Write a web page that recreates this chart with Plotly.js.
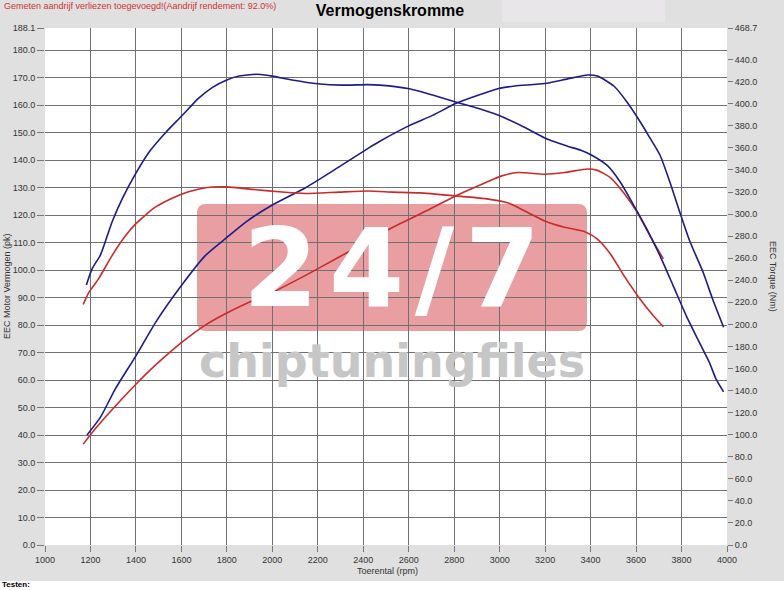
<!DOCTYPE html>
<html>
<head>
<meta charset="utf-8">
<script src="https://cdn.plot.ly/plotly-3.0.1.min.js"></script>
<style>html,body{margin:0;padding:0;background:#fff}#chart{width:784px;height:590px}</style>
</head>
<body>
<div id="chart"></div>
<script>
// ---- data ----
const rpmTorqueTuned = [1182,1207,1244,1295,1340,1400,1458,1530,1600,1675,1737,1800,1854,1912,1949,2000,2087,2200,2305,2420,2473,2603,2705,2806,2908,2995,3111,3198,3299,3357,3401,3473,3531,3589,3647,3705,3763,3821,3879,3923,3952,3985];
const torqueTuned = [235.7,250.4,262.9,292.8,314.0,337.1,356.3,373.8,388.7,404.9,414.9,421.6,425.1,426.6,426.6,425.1,421.6,418.1,416.9,417.4,416.9,413.6,407.9,401.7,395.7,389.5,378.5,369.0,361.6,357.8,353.8,344.1,328.9,308.2,286.6,262.4,235.2,207.8,183.4,165.2,150.3,138.8];

const rpmTorqueStock = [1168,1193,1236,1295,1354,1400,1488,1600,1705,1800,1912,2029,2146,2292,2423,2530,2647,2806,2937,3038,3111,3198,3285,3372,3430,3488,3546,3618,3676,3720];
const torqueStock = [218.0,229.0,241.5,262.4,280.3,291.3,306.7,318.0,323.9,324.7,322.4,320.2,318.7,319.9,320.9,319.9,319.2,316.5,314.0,310.0,302.8,293.8,288.1,284.1,277.3,263.6,244.4,222.8,207.8,197.8];

const rpmPowerTuned = [1185,1244,1310,1400,1488,1600,1705,1800,1883,2000,2146,2292,2423,2473,2600,2705,2806,2908,2995,3067,3198,3299,3386,3430,3502,3560,3618,3661,3705,3749,3792,3836,3894,3937,3985];
const powerTuned = [40.0,46.5,56.9,68.8,81.2,94.4,105.3,111.9,117.5,123.7,130.0,137.5,144.4,146.9,152.5,156.3,160.6,163.7,166.1,167.0,167.9,169.6,171.0,170.6,167.0,161.2,154.0,148.1,141.9,132.0,121.2,110.6,99.4,89.4,79.2];

const rpmPowerStock = [1168,1222,1310,1400,1488,1600,1705,1800,1927,2000,2146,2292,2423,2530,2676,2806,2937,3009,3082,3198,3285,3386,3430,3488,3546,3604,3661,3720];
const powerStock = [36.7,42.4,50.6,58.5,65.6,73.6,80.0,84.4,89.4,91.9,98.1,104.7,110.6,115.6,121.5,127.0,131.8,134.3,135.5,134.9,135.5,136.8,136.3,133.6,128.1,121.2,112.5,104.1];

const xTicks = [1000,1200,1400,1600,1800,2000,2200,2400,2600,2800,3000,3200,3400,3600,3800,4000];
const leftTicks = [0,10,20,30,40,50,60,70,80,90,100,110,120,130,140,150,160,170,180,188.1];
const rightTicks = [0,20,40,60,80,100,120,140,160,180,200,220,240,260,280,300,320,340,360,380,400,420,440,468.7];

// ---- helpers (pixel -> paper) ----
const L = 45, R = 727, T = 28, B = 545;
const PX = p => (p - L) / (R - L);
const PY = p => (B - p) / (B - T);

const BLUE = '#1c1c8c', RED = '#cc2a2a';
const lineStyle = c => ({color: c, width: 1.6, shape: 'spline', smoothing: 0.6});

const traces = [
  {x: rpmTorqueStock, y: torqueStock, yaxis: 'y2', mode: 'lines', line: lineStyle(RED), name: 'Koppel origineel'},
  {x: rpmPowerStock, y: powerStock, yaxis: 'y', mode: 'lines', line: lineStyle(RED), name: 'Vermogen origineel'},
  {x: rpmTorqueTuned, y: torqueTuned, yaxis: 'y2', mode: 'lines', line: lineStyle(BLUE), name: 'Koppel getuned'},
  {x: rpmPowerTuned, y: powerTuned, yaxis: 'y', mode: 'lines', line: lineStyle(BLUE), name: 'Vermogen getuned'}
];

const tickFont = {family: 'Liberation Sans, Arial, sans-serif', size: 9, color: '#333'};

function roundRect(x0, y0, x1, y1, r) {
  const rx = r / (R - L), ry = r / (B - T);
  const a = PX(x0), b = PX(x1), top = PY(y0), bot = PY(y1);
  return `M ${a+rx},${top} L ${b-rx},${top} Q ${b},${top} ${b},${top-ry} L ${b},${bot+ry} Q ${b},${bot} ${b-rx},${bot} L ${a+rx},${bot} Q ${a},${bot} ${a},${bot+ry} L ${a},${top-ry} Q ${a},${top} ${a+rx},${top} Z`;
}

const layout = {
  width: 784, height: 590,
  paper_bgcolor: '#e0e0e0', plot_bgcolor: '#ffffff',
  margin: {l: L, r: 784 - R, t: T, b: 590 - B, pad: 0},
  showlegend: false,
  font: {family: 'Liberation Sans, Arial, sans-serif', size: 9, color: '#333'},
  title: {text: '<b>Vermogenskromme</b>', x: 390/784, xref: 'container', xanchor: 'center', y: 1 - 10/590, yref: 'container', yanchor: 'middle',
          font: {family: 'Liberation Sans, Arial, sans-serif', size: 16, color: '#000'}},
  xaxis: {range: [1000, 4000], tickmode: 'array', tickvals: xTicks, ticktext: xTicks.map(String),
          showgrid: true, gridcolor: '#707070', gridwidth: 1, zeroline: false, showline: false,
          ticks: 'outside', ticklen: 6, tickcolor: '#777', tickfont: tickFont, fixedrange: true},
  yaxis: {range: [0, 188.1], tickmode: 'array', tickvals: leftTicks, ticktext: leftTicks.map(v => v.toFixed(1)),
          showgrid: true, gridcolor: '#707070', gridwidth: 1, zeroline: false, showline: false,
          ticks: 'outside', ticklen: 7, tickcolor: '#777', tickfont: tickFont, fixedrange: true},
  yaxis2: {range: [0, 468.7], overlaying: 'y', side: 'right', tickmode: 'array', tickvals: rightTicks, ticktext: rightTicks.map(v => v.toFixed(1)),
          showgrid: false, zeroline: false, showline: false,
          ticks: 'outside', ticklen: 5, tickcolor: '#777', tickfont: tickFont, fixedrange: true},
  shapes: [
    {type: 'rect', xref: 'paper', yref: 'paper', x0: PX(502), x1: PX(665), y0: PY(22), y1: PY(0), fillcolor: '#e8e6e8', line: {width: 0}, layer: 'below'},
    {type: 'rect', xref: 'paper', yref: 'paper', x0: PX(0), x1: PX(784), y0: PY(590), y1: PY(581), fillcolor: '#ffffff', line: {width: 0}, layer: 'below'},
    {type: 'path', xref: 'paper', yref: 'paper', path: roundRect(197, 204, 587, 331, 9), fillcolor: '#e99fa2', line: {width: 0}, layer: 'below'}
  ],
  annotations: [
    {xref: 'paper', yref: 'paper', x: PX(3), y: PY(6), xanchor: 'left', yanchor: 'middle', showarrow: false, borderpad: 0,
     text: 'Gemeten aandrijf verliezen toegevoegd!(Aandrijf rendement: 92.0%)', font: {family: 'Liberation Sans, Arial, sans-serif', size: 9, color: '#cc3333'}},
    {xref: 'paper', yref: 'paper', x: PX(391), y: PY(268), xanchor: 'center', yanchor: 'middle', showarrow: false, borderpad: 0,
     text: '<b>2\u200a4\u200a/\u200a7</b>', font: {family: 'DejaVu Sans, sans-serif', size: 108, color: '#ffffff'}},
    {xref: 'paper', yref: 'paper', x: PX(392), y: PY(361), xanchor: 'center', yanchor: 'middle', showarrow: false, borderpad: 0,
     text: '<b>chiptuningfiles</b>', font: {family: 'DejaVu Sans, sans-serif', size: 46, color: '#c6c6c6'}},
    {xref: 'paper', yref: 'paper', x: PX(7), y: PY(286), xanchor: 'center', yanchor: 'middle', textangle: -90, showarrow: false, borderpad: 0,
     text: 'EEC Motor Vermogen (pk)', font: {family: 'Liberation Sans, Arial, sans-serif', size: 9, color: '#333'}},
    {xref: 'paper', yref: 'paper', x: PX(773), y: PY(276), xanchor: 'center', yanchor: 'middle', textangle: 90, showarrow: false, borderpad: 0,
     text: 'EEC Torque (Nm)', font: {family: 'Liberation Sans, Arial, sans-serif', size: 9, color: '#333'}},
    {xref: 'paper', yref: 'paper', x: PX(387), y: PY(571), xanchor: 'center', yanchor: 'middle', showarrow: false, borderpad: 0,
     text: 'Toerental (rpm)', font: {family: 'Liberation Sans, Arial, sans-serif', size: 9, color: '#333'}},
    {xref: 'paper', yref: 'paper', x: PX(1), y: PY(590), xanchor: 'left', yanchor: 'bottom', showarrow: false, borderpad: 0,
     text: '<b>Testen:</b>', font: {family: 'Liberation Sans, Arial, sans-serif', size: 8, color: '#000'}}
  ]
};

Plotly.newPlot('chart', traces, layout, {displayModeBar: false, staticPlot: true});
</script>
</body>
</html>
